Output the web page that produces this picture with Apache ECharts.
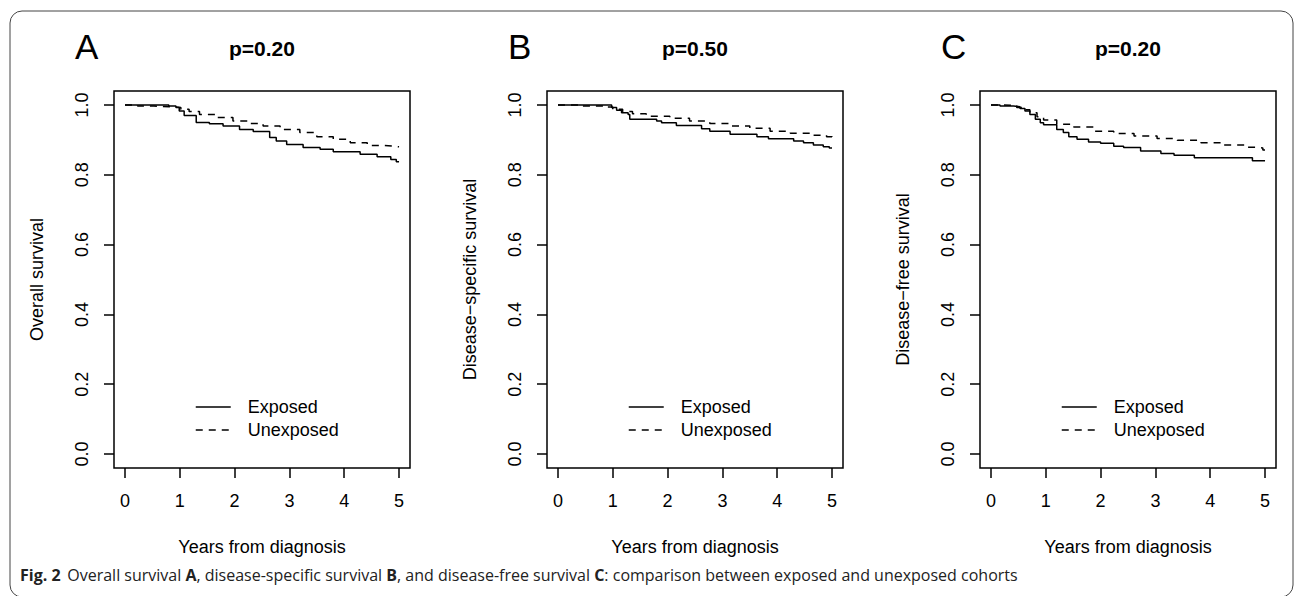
<!DOCTYPE html>
<html>
<head>
<meta charset="utf-8">
<script src="https://cdn.jsdelivr.net/npm/echarts@6/dist/echarts.min.js"></script>
<style>
html,body{margin:0;padding:0;background:#fff;}
#chart{width:1296px;height:596px;}
</style>
</head>
<body>
<div id="chart"></div>
<script>
// ---------- data ----------
const xTicks = [0, 1, 2, 3, 4, 5];
const yTicks = [0, 0.2, 0.4, 0.6, 0.8, 1.0];
const panelLetters = ['A', 'B', 'C'];
const pValues = ['p=0.20', 'p=0.50', 'p=0.20'];
const yTitles = ['Overall survival', 'Disease\u2212specific survival', 'Disease\u2212free survival'];
const xTitle = 'Years from diagnosis';
const groupNames = ['Exposed', 'Unexposed'];

const osExposedT = [0, 0.80, 0.93, 0.99, 1.08, 1.30, 1.54, 1.79, 2.09, 2.34, 2.64, 2.76, 2.95, 3.25, 3.56, 3.80, 4.29, 4.60, 4.85, 4.95, 5.0];
const osExposedS = [1.0, 0.997, 0.993, 0.983, 0.970, 0.950, 0.946, 0.940, 0.930, 0.924, 0.907, 0.897, 0.887, 0.878, 0.873, 0.866, 0.859, 0.852, 0.844, 0.837, 0.837];
const osUnexpT = [0, 0.23, 0.53, 0.81, 1.02, 1.17, 1.36, 1.66, 1.97, 2.28, 2.52, 2.83, 3.19, 3.50, 3.80, 4.11, 4.42, 4.72, 4.90, 5.0];
const osUnexpS = [1.0, 0.997, 0.995, 0.993, 0.988, 0.981, 0.973, 0.964, 0.954, 0.947, 0.940, 0.930, 0.921, 0.909, 0.902, 0.892, 0.884, 0.882, 0.880, 0.880];

const dssExposedT = [0, 0.98, 1.07, 1.16, 1.28, 1.31, 1.80, 1.89, 2.16, 2.62, 2.77, 3.14, 3.63, 3.84, 4.30, 4.48, 4.66, 4.84, 4.95, 5.0];
const dssExposedS = [1.0, 0.9925, 0.985, 0.978, 0.973, 0.959, 0.954, 0.949, 0.941, 0.932, 0.925, 0.916, 0.909, 0.903, 0.897, 0.892, 0.885, 0.880, 0.877, 0.877];
const dssUnexpT = [0, 0.40, 0.84, 1.00, 1.18, 1.36, 1.61, 2.04, 2.40, 2.77, 3.14, 3.50, 3.87, 4.24, 4.60, 4.90, 5.0];
const dssUnexpS = [1.0, 0.997, 0.994, 0.988, 0.981, 0.975, 0.968, 0.962, 0.954, 0.947, 0.940, 0.933, 0.925, 0.919, 0.913, 0.909, 0.906];

const dfsExposedT = [0, 0.165, 0.41, 0.53, 0.62, 0.71, 0.81, 0.90, 0.96, 1.20, 1.32, 1.42, 1.57, 1.78, 2.00, 2.24, 2.42, 2.73, 3.10, 3.34, 3.71, 4.77, 5.0];
const dfsExposedS = [1.0, 0.997, 0.995, 0.990, 0.983, 0.973, 0.959, 0.949, 0.943, 0.930, 0.921, 0.909, 0.902, 0.894, 0.890, 0.882, 0.878, 0.868, 0.861, 0.856, 0.849, 0.840, 0.840];
const dfsUnexpT = [0, 0.23, 0.47, 0.59, 0.71, 0.84, 0.96, 1.20, 1.51, 1.87, 2.24, 2.61, 3.03, 3.40, 3.83, 4.19, 4.62, 4.86, 4.96, 5.0];
const dfsUnexpS = [1.0, 0.999, 0.993, 0.986, 0.978, 0.966, 0.957, 0.945, 0.937, 0.925, 0.918, 0.911, 0.904, 0.899, 0.892, 0.885, 0.879, 0.877, 0.871, 0.871];

// ---------- layout ----------
const FONT = "'Liberation Sans', Arial, Helvetica, sans-serif";
const CAP_FONT = "'Open Sans', 'Noto Sans', sans-serif";
const gridLefts = [114, 547, 980];
const gridTop = 91, gridW = 296, gridH = 377;

const panels = [
  [[osExposedT, osExposedS], [osUnexpT, osUnexpS]],
  [[dssExposedT, dssExposedS], [dssUnexpT, dssUnexpS]],
  [[dfsExposedT, dfsExposedS], [dfsUnexpT, dfsUnexpS]]
];
const pairs = (t, s) => t.map((v, i) => [v, s[i]]);

const grid = [], xAxis = [], yAxis = [], series = [], legend = [], graphic = [];
gridLefts.forEach((L, i) => {
  grid.push({left: L, top: gridTop, width: gridW, height: gridH, show: true,
    borderColor: '#000', borderWidth: 1.5, backgroundColor: 'transparent', containLabel: false});
  xAxis.push({type: 'value', gridIndex: i, min: -0.2, max: 5.2, position: 'bottom',
    axisLine: {show: false, onZero: false}, splitLine: {show: false},
    axisTick: {show: true, customValues: xTicks, length: 10, inside: false, lineStyle: {color: '#000', width: 1.5}},
    axisLabel: {customValues: xTicks, fontSize: 18, color: '#000', fontFamily: FONT, margin: 24},
    name: xTitle, nameLocation: 'middle', nameGap: 70,
    nameTextStyle: {fontSize: 18, color: '#000', fontFamily: FONT}});
  yAxis.push({type: 'value', gridIndex: i, min: -0.04, max: 1.04, position: 'left',
    axisLine: {show: false, onZero: false}, splitLine: {show: false},
    axisTick: {show: true, customValues: yTicks, length: 10, inside: false, lineStyle: {color: '#000', width: 1.5}},
    axisLabel: {customValues: yTicks, rotate: 90, fontSize: 18, color: '#000', fontFamily: FONT, margin: 23,
      formatter: v => v.toFixed(1)},
    name: yTitles[i], nameLocation: 'middle', nameGap: 68,
    nameTextStyle: {fontSize: 18, color: '#000', fontFamily: FONT}});
  panels[i].forEach((d, k) => {
    series.push({type: 'line', name: groupNames[k], xAxisIndex: i, yAxisIndex: i,
      data: pairs(d[0], d[1]), step: 'end', symbol: 'none', silent: true, color: '#000',
      itemStyle: {color: '#000'},
      lineStyle: {color: '#000', width: 1.5, type: k === 0 ? 'solid' : [7, 6]}});
  });
  legend.push({left: L + 81, top: 398, padding: 0, orient: 'vertical', itemWidth: 35, itemHeight: 14, itemGap: 5,
    data: groupNames, selectedMode: false,
    itemStyle: {opacity: 0},
    lineStyle: {color: '#000', width: 1.5},
    textStyle: {fontSize: 18, color: '#000', fontFamily: FONT, padding: [0, 0, 0, 12]}});
  graphic.push({type: 'text', left: L - 39, top: 29,
    style: {text: panelLetters[i], fontSize: 35, fill: '#000', fontFamily: FONT}});
  graphic.push({type: 'text', x: L + gridW / 2, y: 48,
    style: {text: pValues[i], fontSize: 21, fontWeight: 'bold', fill: '#000', fontFamily: FONT,
      align: 'center', verticalAlign: 'middle'}});
});

graphic.push({type: 'rect', shape: {x: 10, y: 11, width: 1283, height: 586, r: 12},
  style: {fill: 'none', stroke: '#444', lineWidth: 1}, z: -1});
graphic.push({type: 'text', x: 20, y: 575,
  style: {
    text: '{b|Fig. 2}  {n|Overall survival }{b|A}{n|, disease-specific survival }{b|B}{n|, and disease-free survival }{b|C}{n|: comparison between exposed and unexposed cohorts}',
    verticalAlign: 'middle', align: 'left',
    rich: {
      b: {fontSize: 16, fontWeight: 'bold', fill: '#222', fontFamily: CAP_FONT},
      n: {fontSize: 16, fill: '#222', fontFamily: CAP_FONT}
    }
  }});

const chart = echarts.init(document.getElementById('chart'), null, {renderer: 'svg'});
chart.setOption({animation: false, backgroundColor: '#fff', grid, xAxis, yAxis, series, legend, graphic});
</script>
</body>
</html>
